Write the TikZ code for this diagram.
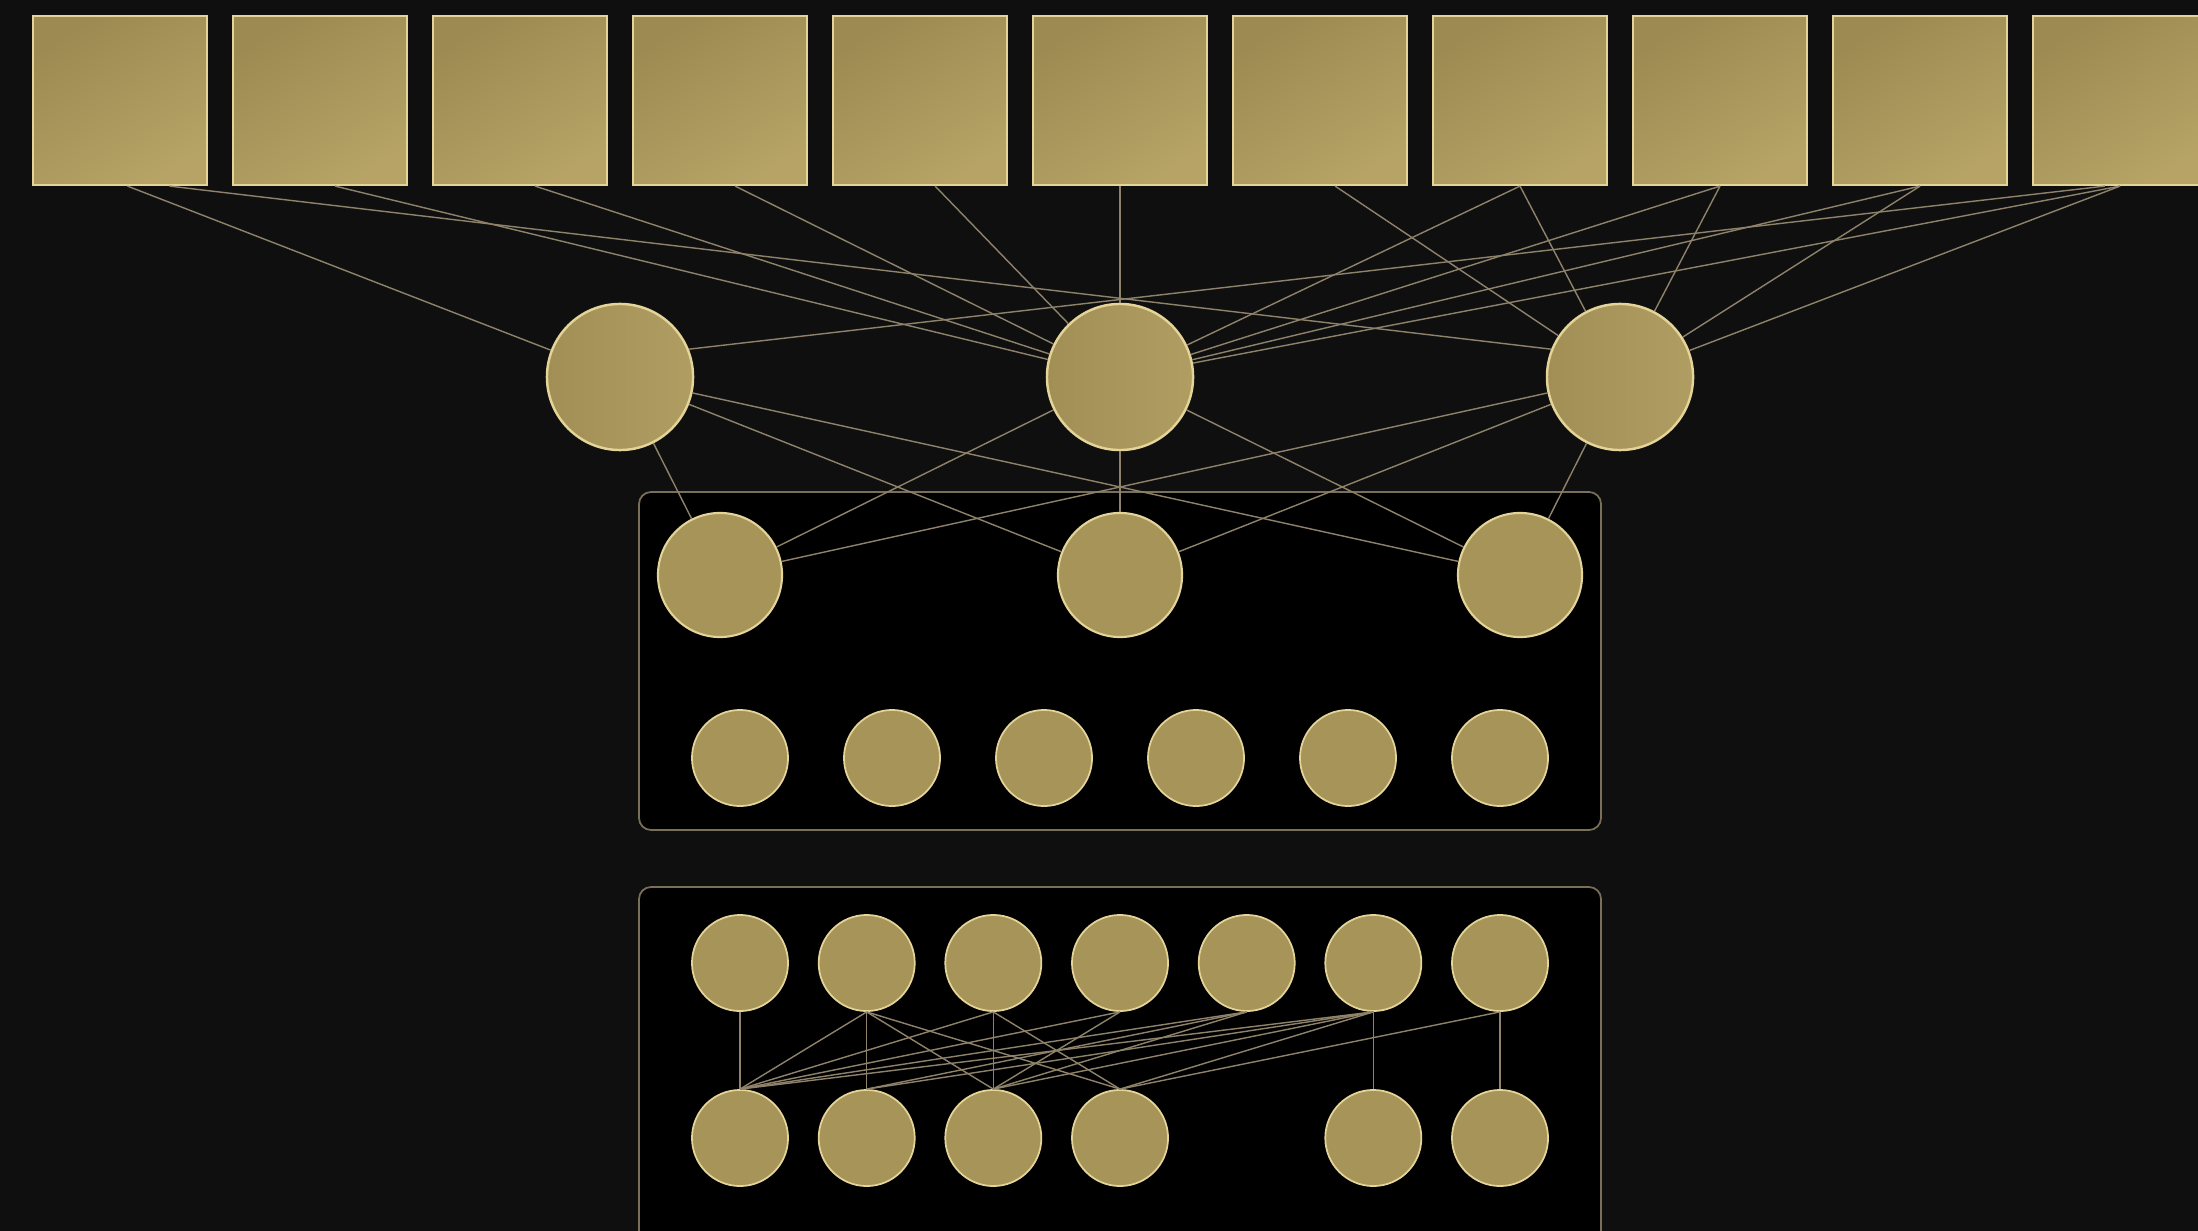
\documentclass[tikz,border=0pt]{standalone}
\definecolor{backdrop}{HTML}{0F0F0F}
\definecolor{golddark}{HTML}{9C8A52}
\definecolor{goldlight}{HTML}{B6A365}
\definecolor{hubdark}{HTML}{A28F56}
\definecolor{hublight}{HTML}{B09D62}
\definecolor{goldfill}{HTML}{A69459}
\definecolor{goldrim}{HTML}{E4D498}
\definecolor{wirecol}{HTML}{8E836A}
\definecolor{framecol}{HTML}{7A705A}
\tikzset{
  tile/.style={rectangle, draw=goldrim, line width=0.6pt, top color=golddark, bottom color=goldlight,
    shading angle=30, minimum width=1.74cm, minimum height=1.69cm, inner sep=0pt},
  hub/.style={circle, draw=goldrim, line width=0.7pt, left color=hubdark, right color=hublight,
    minimum size=1.46cm, inner sep=0pt},
  unit/.style={circle, draw=goldrim, line width=0.6pt, fill=goldfill, minimum size=1.24cm, inner sep=0pt},
  cell/.style={circle, draw=goldrim, line width=0.5pt, fill=goldfill, minimum size=0.96cm, inner sep=0pt},
  wire/.style={draw=wirecol, line width=0.4pt},
  panel/.style={draw=framecol, fill=black, line width=0.5pt, rounded corners=0.12cm},
}
\begin{document}
\begin{tikzpicture}[x=0.01cm,y=-0.01cm]
    \useasboundingbox (0,0) rectangle (2198,1231);
    \fill[backdrop] (0,0) rectangle (2198,1231);
    % Panels
    \draw[panel] (639,492) rectangle (1601,830);
    \draw[panel] (639,887) rectangle (1601,1290);
    % Top row of tiles
    \node[tile] (s0) at (120,100.5) {};
    \node[tile] (s1) at (320,100.5) {};
    \node[tile] (s2) at (520,100.5) {};
    \node[tile] (s3) at (720,100.5) {};
    \node[tile] (s4) at (920,100.5) {};
    \node[tile] (s5) at (1120,100.5) {};
    \node[tile] (s6) at (1320,100.5) {};
    \node[tile] (s7) at (1520,100.5) {};
    \node[tile] (s8) at (1720,100.5) {};
    \node[tile] (s9) at (1920,100.5) {};
    \node[tile] (s10) at (2120,100.5) {};
    % Hubs
    \node[hub] (a) at (620,377) {};
    \node[hub] (b) at (1120,377) {};
    \node[hub] (c) at (1620,377) {};
    % Upper panel
    \node[unit] (m0) at (720,575) {};
    \node[unit] (m1) at (1120,575) {};
    \node[unit] (m2) at (1520,575) {};
    \node[cell] (q0) at (740,758) {};
    \node[cell] (q1) at (892,758) {};
    \node[cell] (q2) at (1044,758) {};
    \node[cell] (q3) at (1196,758) {};
    \node[cell] (q4) at (1348,758) {};
    \node[cell] (q5) at (1500,758) {};
    % Lower panel
    \node[cell] (t0) at (740,963) {};
    \node[cell] (t1) at (866.7,963) {};
    \node[cell] (t2) at (993.3,963) {};
    \node[cell] (t3) at (1120,963) {};
    \node[cell] (t4) at (1246.7,963) {};
    \node[cell] (t5) at (1373.3,963) {};
    \node[cell] (t6) at (1500,963) {};
    \node[cell] (u0) at (740,1138) {};
    \node[cell] (u1) at (866.7,1138) {};
    \node[cell] (u2) at (993.3,1138) {};
    \node[cell] (u3) at (1120,1138) {};
    \node[cell] (u5) at (1373.3,1138) {};
    \node[cell] (u6) at (1500,1138) {};
    % Tiles to hubs
    \draw[wire] (s0.-85) -- (a);
    \draw[wire] (s0.-60) -- (c.158);
    \draw[wire] (s10.-100) -- (a.22);
    \draw[wire] (s1.-80) -- (b);
    \draw[wire] (s2.-80) -- (b);
    \draw[wire] (s3.-80) -- (b);
    \draw[wire] (s4.-80) -- (b);
    \draw[wire] (s5.south) -- (b);
    \draw[wire] (s7.south) -- (b);
    \draw[wire] (s8.south) -- (b);
    \draw[wire] (s9.south) -- (b);
    \draw[wire] (s10.south) -- (b);
    \draw[wire] (s6.-80) -- (c);
    \draw[wire] (s7.south) -- (c);
    \draw[wire] (s8.south) -- (c);
    \draw[wire] (s9.south) -- (c);
    \draw[wire] (s10.south) -- (c);
    % Hubs to units
    \draw[wire] (a) -- (m0);
    \draw[wire] (a) -- (m1);
    \draw[wire] (a) -- (m2);
    \draw[wire] (b) -- (m0);
    \draw[wire] (b) -- (m1);
    \draw[wire] (b) -- (m2);
    \draw[wire] (c) -- (m0);
    \draw[wire] (c) -- (m1);
    \draw[wire] (c) -- (m2);
    % Lower panel links
    \draw[wire] (t0.south) -- (u0.north);
    \draw[wire] (t1.south) -- (u0.north);
    \draw[wire] (t1.south) -- (u1.north);
    \draw[wire] (t1.south) -- (u2.north);
    \draw[wire] (t1.south) -- (u3.north);
    \draw[wire] (t2.south) -- (u0.north);
    \draw[wire] (t2.south) -- (u2.north);
    \draw[wire] (t2.south) -- (u3.north);
    \draw[wire] (t3.south) -- (u0.north);
    \draw[wire] (t3.south) -- (u2.north);
    \draw[wire] (t4.south) -- (u0.north);
    \draw[wire] (t4.south) -- (u1.north);
    \draw[wire] (t4.south) -- (u2.north);
    \draw[wire] (t5.south) -- (u0.north);
    \draw[wire] (t5.south) -- (u1.north);
    \draw[wire] (t5.south) -- (u2.north);
    \draw[wire] (t5.south) -- (u3.north);
    \draw[wire] (t5.south) -- (u5.north);
    \draw[wire] (t6.south) -- (u3.north);
    \draw[wire] (t6.south) -- (u6.north);
\end{tikzpicture}
\end{document}
